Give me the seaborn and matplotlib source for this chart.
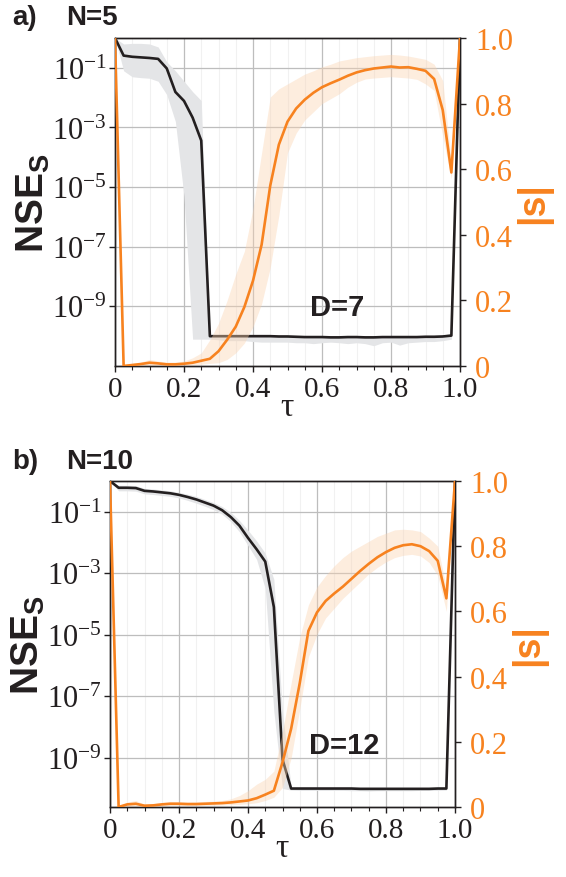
import numpy as np
import pandas as pd
import seaborn as sns
import matplotlib.pyplot as plt
from matplotlib.ticker import FixedLocator, FuncFormatter, MultipleLocator, NullLocator

# --- data (tau grid, log10 NSE_S, |s|) ---
tau = [0.0, 0.025, 0.05, 0.075, 0.1, 0.125, 0.15, 0.175, 0.2, 0.225,
       0.25, 0.275, 0.3, 0.325, 0.35, 0.375, 0.4, 0.425, 0.45, 0.475,
       0.5, 0.525, 0.55, 0.575, 0.6, 0.625, 0.65, 0.675, 0.7, 0.725,
       0.75, 0.775, 0.8, 0.825, 0.85, 0.875, 0.9, 0.925, 0.95, 0.975, 1.0]

# panel a) N=5, D=7
nse_a = [0, -0.59, -0.63, -0.65, -0.67, -0.7, -1.02, -1.81, -2.11, -2.67,
         -3.44, -10.0, -10.0, -10.0, -10.0, -10.0, -10.0, -10.0, -10.0, -10.01,
         -10.01, -10.02, -10.03, -10.03, -10.03, -10.04, -10.04, -10.03, -10.03, -10.04,
         -10.04, -10.03, -10.03, -10.03, -10.03, -10.03, -10.02, -10.02, -10.01, -9.98, 0]
nse_a_lo = [0, -1.1, -1.3, -1.33, -1.35, -1.45, -1.9, -2.8, -5.3, -10.1,
            -10.1, -10.1, -10.12, -10.15, -10.15, -10.15, -10.18, -10.2, -10.2, -10.2,
            -10.2, -10.22, -10.22, -10.25, -10.22, -10.2, -10.22, -10.25, -10.22, -10.25,
            -10.32, -10.22, -10.2, -10.3, -10.22, -10.2, -10.18, -10.18, -10.15, -10.1, 0]
nse_a_hi = [0, -0.2, -0.18, -0.18, -0.2, -0.3, -0.8, -1.1, -1.45, -1.8,
            -2.1, -9.95, -9.96, -9.96, -9.96, -9.96, -9.96, -9.96, -9.97, -9.97,
            -9.97, -9.98, -9.98, -9.98, -9.98, -9.98, -9.98, -9.98, -9.98, -9.98,
            -9.98, -9.98, -9.98, -9.98, -9.98, -9.98, -9.97, -9.97, -9.96, -9.9, 0]
s_a = [1.0, 0.0, 0.003, 0.006, 0.01, 0.008, 0.005, 0.005, 0.007, 0.01,
       0.016, 0.022, 0.045, 0.08, 0.12, 0.18, 0.26, 0.37, 0.55, 0.675,
       0.745, 0.785, 0.812, 0.833, 0.85, 0.862, 0.873, 0.885, 0.895, 0.902,
       0.907, 0.91, 0.913, 0.91, 0.911, 0.906, 0.9, 0.875, 0.78, 0.59, 1.0]
s_a_lo = [1.0, 0.0, 0.0, 0.0, 0.0, 0.0, 0.0, 0.0, 0.0, 0.003,
          0.005, 0.008, 0.01, 0.02, 0.04, 0.07, 0.12, 0.19, 0.3, 0.46,
          0.65, 0.71, 0.75, 0.775, 0.8, 0.815, 0.83, 0.85, 0.865, 0.875,
          0.878, 0.88, 0.882, 0.88, 0.878, 0.874, 0.86, 0.84, 0.7, 0.57, 1.0]
s_a_hi = [1.0, 0.005, 0.008, 0.012, 0.02, 0.015, 0.012, 0.012, 0.015, 0.025,
          0.04, 0.08, 0.13, 0.2, 0.28, 0.35, 0.48, 0.65, 0.82, 0.845,
          0.86, 0.875, 0.89, 0.9, 0.912, 0.92, 0.93, 0.935, 0.94, 0.943,
          0.946, 0.948, 0.95, 0.948, 0.945, 0.94, 0.935, 0.92, 0.87, 0.62, 1.0]

# panel b) N=10, D=12
nse_b = [0, -0.22, -0.22, -0.23, -0.32, -0.34, -0.37, -0.4, -0.45, -0.52,
         -0.6, -0.7, -0.8, -0.95, -1.17, -1.45, -1.85, -2.22, -2.62, -4.1,
         -9.05, -10.0, -10.0, -10.0, -10.0, -10.0, -10.0, -10.0, -10.0, -10.01,
         -10.01, -10.01, -10.01, -10.01, -10.01, -10.01, -10.01, -10.01, -10.0, -10.0, 0]
nse_b_lo = [0, -0.32, -0.32, -0.33, -0.42, -0.44, -0.47, -0.5, -0.55, -0.63,
            -0.72, -0.82, -0.93, -1.08, -1.32, -1.65, -2.1, -2.55, -3.5, -7.5,
            -10.0, -10.05, -10.06, -10.06, -10.06, -10.06, -10.06, -10.06, -10.07, -10.07,
            -10.08, -10.07, -10.07, -10.07, -10.07, -10.07, -10.06, -10.06, -10.06, -10.05, 0]
nse_b_hi = [0, -0.14, -0.14, -0.15, -0.24, -0.26, -0.29, -0.32, -0.37, -0.43,
            -0.5, -0.6, -0.7, -0.83, -1.02, -1.28, -1.6, -1.95, -2.35, -3.2,
            -7.5, -9.95, -9.96, -9.96, -9.96, -9.96, -9.96, -9.96, -9.96, -9.96,
            -9.96, -9.96, -9.96, -9.96, -9.96, -9.96, -9.96, -9.96, -9.96, -9.95, 0]
s_b = [1.0, 0.0, 0.008, 0.01, 0.004, 0.005, 0.008, 0.01, 0.01, 0.009,
       0.009, 0.01, 0.011, 0.012, 0.014, 0.017, 0.02, 0.027, 0.038, 0.05,
       0.137, 0.24, 0.38, 0.54, 0.597, 0.632, 0.655, 0.676, 0.7, 0.724,
       0.746, 0.766, 0.782, 0.795, 0.803, 0.806, 0.8, 0.785, 0.755, 0.64, 1.0]
s_b_lo = [1.0, 0.0, 0.002, 0.003, 0.0, 0.0, 0.002, 0.004, 0.004, 0.004,
          0.004, 0.005, 0.005, 0.006, 0.007, 0.008, 0.01, 0.013, 0.02, 0.03,
          0.06, 0.15, 0.3, 0.46, 0.53, 0.58, 0.61, 0.64, 0.665, 0.69,
          0.715, 0.735, 0.752, 0.765, 0.772, 0.775, 0.77, 0.75, 0.71, 0.6, 1.0]
s_b_hi = [1.0, 0.005, 0.015, 0.02, 0.008, 0.01, 0.014, 0.017, 0.016, 0.015,
          0.016, 0.017, 0.018, 0.02, 0.025, 0.035, 0.05, 0.07, 0.085, 0.11,
          0.23, 0.38, 0.52, 0.62, 0.675, 0.71, 0.74, 0.765, 0.785, 0.8,
          0.815, 0.83, 0.84, 0.85, 0.852, 0.85, 0.845, 0.825, 0.8, 0.67, 1.0]

panels = [
    dict(tag='a)', n_label='N=5', d_label='D=7', nse=nse_a, nse_lo=nse_a_lo, nse_hi=nse_a_hi,
         s=s_a, s_lo=s_a_lo, s_hi=s_a_hi, ylow=-11.0,
         rect=[115 / 566, 1 - 367 / 878, 345 / 566, 328 / 878], tag_y=1 - 18 / 878, d_pos=(0.645, 0.18)),
    dict(tag='b)', n_label='N=10', d_label='D=12', nse=nse_b, nse_lo=nse_b_lo, nse_hi=nse_b_hi,
         s=s_b, s_lo=s_b_lo, s_hi=s_b_hi, ylow=-10.6,
         rect=[110 / 566, 1 - 808 / 878, 345 / 566, 326 / 878], tag_y=1 - 462 / 878, d_pos=(0.68, 0.19)),
]

BLACK = '#231F20'
ORANGE = '#F7821F'
GRAY_BAND = '#E4E5E7'
ORANGE_BAND = '#FAD2AE'

sns.set_theme(style='ticks')
plt.rcParams['font.family'] = ['Liberation Serif', 'DejaVu Serif']
plt.rcParams['axes.unicode_minus'] = False

fig = plt.figure(figsize=(5.66, 8.78), dpi=100)

for p in panels:
    df = pd.DataFrame({'tau': tau,
                       'nse': np.power(10.0, p['nse']),
                       'nse_lo': np.power(10.0, p['nse_lo']),
                       'nse_hi': np.power(10.0, p['nse_hi']),
                       's': p['s'], 's_lo': p['s_lo'], 's_hi': p['s_hi']})

    ax = fig.add_axes(p['rect'])
    ax.set_yscale('log')
    ax.fill_between(df['tau'], df['nse_lo'], df['nse_hi'], color=GRAY_BAND, lw=0, zorder=1)
    sns.lineplot(data=df, x='tau', y='nse', ax=ax, color=BLACK, lw=1.9, legend=False, zorder=3)

    ax.set_xlim(0, 1)
    ax.set_ylim(10 ** p['ylow'], 1)
    ax.yaxis.set_major_locator(FixedLocator([1e-1, 1e-3, 1e-5, 1e-7, 1e-9]))
    ax.yaxis.set_minor_locator(NullLocator())
    ax.yaxis.set_major_formatter(FuncFormatter(
        lambda v, pos: r'$\mathregular{10^{%d}}$' % int(round(np.log10(v)))))
    ax.xaxis.set_major_locator(MultipleLocator(0.2))
    ax.xaxis.set_minor_locator(MultipleLocator(0.05))
    ax.xaxis.set_major_formatter(FuncFormatter(lambda v, pos: '0' if v == 0 else '%.1f' % v))

    ax.grid(which='major', color='#BDBDBD', lw=0.9, zorder=0)
    ax.grid(which='minor', axis='x', color='#F1F1F1', lw=0.8, zorder=0)
    ax.set_axisbelow(True)
    for sp in ax.spines.values():
        sp.set_color(BLACK)
        sp.set_linewidth(1.0)
    ax.tick_params(axis='both', which='major', direction='out', length=4, width=1,
                   colors=BLACK, labelsize=22, pad=2)
    ax.tick_params(axis='x', which='major', labelsize=21, pad=3)
    ax.tick_params(axis='x', which='minor', direction='out', length=3, width=0.8, colors=BLACK)

    ax.set_xlabel('τ', fontsize=24, color=BLACK, labelpad=-7)
    ax.set_ylabel(r'NSE$_{\mathregular{S}}$', fontsize=28, fontfamily='Liberation Sans',
                  fontweight='bold', color=BLACK, labelpad=0)

    ax2 = ax.twinx()
    ax2.fill_between(df['tau'], df['s_lo'], df['s_hi'], color=ORANGE_BAND, alpha=0.4, lw=0, zorder=1)
    sns.lineplot(data=df, x='tau', y='s', ax=ax2, color=ORANGE, lw=1.9, legend=False, zorder=3)
    ax2.set_ylim(0, 1)
    ax2.set_xlim(0, 1)
    ax2.grid(False)
    ax2.yaxis.set_major_locator(MultipleLocator(0.2))
    ax2.yaxis.set_major_formatter(FuncFormatter(lambda v, pos: '0' if v == 0 else '%.1f' % v))
    ax2.tick_params(axis='y', direction='out', length=4, width=1, color=BLACK,
                    labelcolor=ORANGE, labelsize=22, pad=7)
    for sp in ax2.spines.values():
        sp.set_color(BLACK)
        sp.set_linewidth(1.0)
    ax2.set_ylabel('|s|', fontsize=27, fontfamily='Liberation Sans', fontweight='bold',
                   color=ORANGE, labelpad=1)

    ax2.text(p['d_pos'][0], p['d_pos'][1], p['d_label'], transform=ax2.transAxes,
             ha='center', va='center', fontsize=21, fontweight='bold',
             fontfamily='Liberation Sans', color=BLACK, zorder=5)

    fig.text(12 / 566, p['tag_y'], p['tag'], fontsize=20, fontweight='bold',
             fontfamily='Liberation Sans', color=BLACK, va='center')
    fig.text(66 / 566, p['tag_y'], p['n_label'], fontsize=20, fontweight='bold',
             fontfamily='Liberation Sans', color=BLACK, va='center')

fig.savefig('out.png', dpi=100)
